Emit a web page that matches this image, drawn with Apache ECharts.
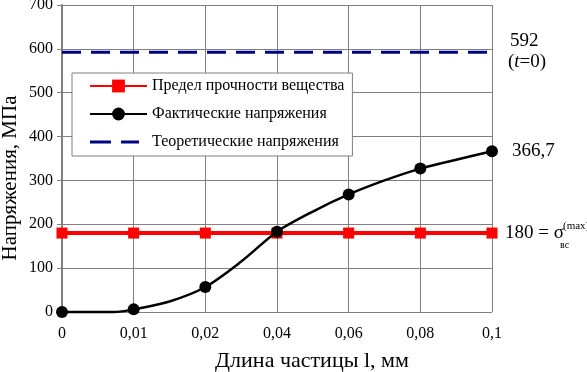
<!DOCTYPE html>
<html><head><meta charset="utf-8">
<script src="https://cdn.jsdelivr.net/npm/echarts@6/dist/echarts.min.js"></script>
<style>html,body{margin:0;padding:0;background:#fff}#c{width:587px;height:372px}</style>
</head><body><div id="c"></div>
<script>
var xLabels = ['0', '0,01', '0,02', '0,04', '0,06', '0,08', '0,1'];
var seriesNames = ['Предел прочности вещества', 'Фактические напряжения', 'Теоретические напряжения'];
var xTitle = 'Длина частицы l, мм';
var yTitle = 'Напряжения, МПа';
// strength limit at each category
var strengthValues = [180, 180, 180, 180, 180, 180, 180];
// actual stresses at each category (markers)
var actualValues = [0, 6, 57, 183, 268, 327, 366.7];
// unmarked points of the smoothed curve between categories: [position, value]
var actualCurveExtra = [[0.5, 0], [0.72, 0], [1.5, 24], [2.5, 115], [3.5, 229], [4.5, 300], [5.5, 347]];
var theoreticalValue = 592;
var yTicks = [0, 100, 200, 300, 400, 500, 600, 700];

var FONT = "'Liberation Serif','Times New Roman',serif";
var chart = echarts.init(document.getElementById('c'), null, {renderer: 'canvas'});

var actualData = [];
actualValues.forEach(function (v, i) { actualData.push({value: [i, v]}); });
actualCurveExtra.forEach(function (p) { actualData.push({value: p, symbol: 'none'}); });
actualData.sort(function (a, b) { return a.value[0] - b.value[0]; });

var dashIcon = 'path://M0,0M57,16M0,6.5H21V9.5H0Z M31,6.5H49V9.5H31Z';

chart.setOption({
  animation: false,
  backgroundColor: '#fff',
  grid: {left: 62, right: 95, top: 5, bottom: 60, containLabel: false, outerBoundsMode: 'none'},
  xAxis: {
    type: 'value', min: 0, max: xLabels.length - 1, interval: 1,
    axisLine: {show: false},
    axisTick: {show: false},
    axisLabel: {fontFamily: FONT, fontSize: 16, color: '#000', margin: 14,
      formatter: function (v) { return xLabels[Math.round(v)]; }},
    splitLine: {show: true, lineStyle: {color: '#808080', width: 1}}
  },
  yAxis: {
    type: 'value', min: yTicks[0], max: yTicks[yTicks.length - 1], interval: 100,
    axisLine: {show: true, lineStyle: {color: '#808080', width: 2}},
    axisTick: {show: true, length: 5, lineStyle: {color: '#808080'}},
    axisLabel: {fontFamily: FONT, fontSize: 16, color: '#000', margin: 9},
    splitLine: {show: true, lineStyle: {color: '#808080', width: 1}}
  },
  legend: {
    show: true, orient: 'vertical', left: 72, top: 73,
    backgroundColor: '#fff', borderColor: '#808080', borderWidth: 1,
    padding: [5, 8, 6, 17], itemGap: 12, itemWidth: 57, itemHeight: 16,
    textStyle: {fontFamily: FONT, fontSize: 16, color: '#000'},
    data: [{name: seriesNames[0]}, {name: seriesNames[1]}, {name: seriesNames[2], icon: dashIcon, itemStyle: {color: '#000080'}}]
  },
  series: [
    {
      name: seriesNames[0], type: 'line', clip: false, z: 3,
      data: strengthValues.map(function (v, i) { return [i, v]; }),
      symbol: 'rect', symbolSize: 11,
      itemStyle: {color: '#ff0000'},
      lineStyle: {color: '#ff0000', width: 4}
    },
    {
      name: seriesNames[1], type: 'line', clip: false, z: 4,
      data: actualData, smooth: 0.3,
      symbol: 'circle', symbolSize: 12,
      itemStyle: {color: '#000'},
      lineStyle: {color: '#000', width: 2.5}
    },
    {
      name: seriesNames[2], type: 'line', clip: false, z: 2,
      data: [[0, theoreticalValue], [xLabels.length - 1, theoreticalValue]],
      symbol: 'none',
      itemStyle: {color: '#000080'},
      lineStyle: {color: '#000080', width: 3, type: [19, 10]}
    }
  ]
});

function addLabels() {
  var last = xLabels.length - 1;
  var pT = chart.convertToPixel({gridIndex: 0}, [last, theoreticalValue]);
  var pA = chart.convertToPixel({gridIndex: 0}, [last, actualValues[actualValues.length - 1]]);
  var pS = chart.convertToPixel({gridIndex: 0}, [last, strengthValues[strengthValues.length - 1]]);
  var big = {fontFamily: FONT, fontSize: 19, fill: '#000'};
  chart.setOption({
    graphic: [
      {type: 'text', x: 312, y: 361, style: {text: xTitle, fontFamily: FONT, fontSize: 22, fill: '#000', align: 'center', verticalAlign: 'middle'}},
      {type: 'text', x: 10, y: 178, rotation: Math.PI / 2, style: {text: yTitle, fontFamily: FONT, fontSize: 21, fill: '#000', align: 'center', verticalAlign: 'middle'}},
      {type: 'text', x: pT[0] + 18, y: pT[1] - 11, style: Object.assign({text: String(theoreticalValue), verticalAlign: 'middle'}, big)},
      {type: 'text', x: pT[0] + 16, y: pT[1] + 10, style: {
        text: '{a|(}{i|t}{a|=0)}', verticalAlign: 'middle',
        rich: {a: {fontFamily: FONT, fontSize: 19, fill: '#000'}, i: {fontFamily: FONT, fontSize: 19, fontStyle: 'italic', fill: '#000'}}
      }},
      {type: 'text', x: pA[0] + 20, y: pA[1], style: Object.assign({text: String(actualValues[actualValues.length - 1]).replace('.', ','), verticalAlign: 'middle'}, big)},
      {type: 'text', x: pS[0] + 13, y: pS[1], style: Object.assign({text: String(strengthValues[strengthValues.length - 1]) + ' = σ', verticalAlign: 'middle'}, big)},
      {type: 'text', x: pS[0] + 71, y: pS[1] - 7, style: {text: '(max)', fontFamily: FONT, fontSize: 11, fill: '#000', verticalAlign: 'middle'}},
      {type: 'text', x: pS[0] + 68, y: pS[1] + 12, style: {text: 'вс', fontFamily: FONT, fontSize: 10, fill: '#000', verticalAlign: 'middle'}}
    ]
  });
}
addLabels();
</script>
</body></html>
